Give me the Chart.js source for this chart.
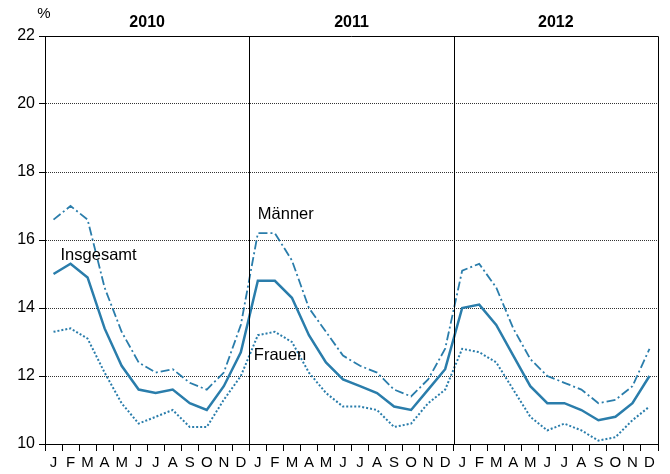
<!DOCTYPE html>
<html>
<head>
<meta charset="utf-8">
<script src="https://cdn.jsdelivr.net/npm/chart.js@4"></script>
<style>
  html, body { margin: 0; padding: 0; background: #fff; }
  #wrap { width: 670px; height: 474px; }
</style>
</head>
<body>
<div id="wrap"><canvas id="chart" width="670" height="474"></canvas></div>
<script>
// --- Data ---
const years = ["2010", "2011", "2012"];
const months = ["J", "F", "M", "A", "M", "J", "J", "A", "S", "O", "N", "D"];
const yTicks = [10, 12, 14, 16, 18, 20, 22];

const maenner = [
  16.6, 17.0, 16.6, 14.6, 13.3, 12.4, 12.1, 12.2, 11.8, 11.6, 12.1, 13.5,
  16.2, 16.2, 15.4, 14.0, 13.3, 12.6, 12.3, 12.1, 11.6, 11.4, 11.9, 12.8,
  15.1, 15.3, 14.6, 13.4, 12.5, 12.0, 11.8, 11.6, 11.2, 11.3, 11.7, 12.8,
];
const insgesamt = [
  15.0, 15.3, 14.9, 13.4, 12.3, 11.6, 11.5, 11.6, 11.2, 11.0, 11.7, 12.7,
  14.8, 14.8, 14.3, 13.2, 12.4, 11.9, 11.7, 11.5, 11.1, 11.0, 11.6, 12.2,
  14.0, 14.1, 13.5, 12.6, 11.7, 11.2, 11.2, 11.0, 10.7, 10.8, 11.2, 12.0,
];
const frauen = [
  13.3, 13.4, 13.1, 12.1, 11.2, 10.6, 10.8, 11.0, 10.5, 10.5, 11.3, 12.0,
  13.2, 13.3, 13.0, 12.1, 11.5, 11.1, 11.1, 11.0, 10.5, 10.6, 11.2, 11.6,
  12.8, 12.7, 12.4, 11.6, 10.8, 10.4, 10.6, 10.4, 10.1, 10.2, 10.7, 11.1,
];

const labels = [];
years.forEach(() => months.forEach((m) => labels.push(m)));

const lineColor = "#2a7dab";
const font = "'Liberation Sans', Arial, sans-serif";

// year headers, separators, frame and series names
const decorations = {
  id: "decorations",
  afterDatasetsDraw(chart) {
    const { ctx, chartArea, scales } = chart;
    const x = scales.x, y = scales.y;
    ctx.save();
    ctx.strokeStyle = "#000";
    ctx.lineWidth = 1;
    // frame top + right
    ctx.beginPath();
    ctx.moveTo(chartArea.left, chartArea.top + 0.5);
    ctx.lineTo(chartArea.right + 0.5, chartArea.top + 0.5);
    ctx.lineTo(chartArea.right + 0.5, chartArea.bottom);
    ctx.stroke();
    // year separators
    for (let i = 1; i < years.length; i++) {
      const px = Math.round((x.getPixelForValue(i * 12 - 1) + x.getPixelForValue(i * 12)) / 2) + 0.5;
      ctx.beginPath();
      ctx.moveTo(px, chartArea.top);
      ctx.lineTo(px, chartArea.bottom);
      ctx.stroke();
    }
    // year labels
    ctx.fillStyle = "#000";
    ctx.font = "bold 16px " + font;
    ctx.textAlign = "center";
    ctx.textBaseline = "middle";
    years.forEach((yr, i) => {
      const cx = (x.getPixelForValue(i * 12) + x.getPixelForValue(i * 12 + 11)) / 2;
      ctx.fillText(yr, cx, 23);
    });
    // unit
    ctx.font = "15px " + font;
    ctx.fillText("%", 44, 14);
    // series names
    ctx.font = "16.5px " + font;
    ctx.textAlign = "left";
    ctx.fillText("Männer", x.getPixelForValue(12), y.getPixelForValue(16.75));
    ctx.fillText("Insgesamt", x.getPixelForValue(0) + 7, y.getPixelForValue(15.55));
    ctx.fillText("Frauen", x.getPixelForValue(12) - 4, y.getPixelForValue(12.6));
    ctx.restore();
  },
};

const ctx = document.getElementById("chart").getContext("2d");
new Chart(ctx, {
  type: "line",
  data: {
    labels: labels,
    datasets: [
      {
        label: "Männer",
        data: maenner,
        borderColor: lineColor,
        borderWidth: 1.8,
        borderDash: [9, 3, 2, 3],
        pointRadius: 0,
        tension: 0,
      },
      {
        label: "Insgesamt",
        data: insgesamt,
        borderColor: lineColor,
        borderWidth: 2.5,
        pointRadius: 0,
        tension: 0,
      },
      {
        label: "Frauen",
        data: frauen,
        borderColor: lineColor,
        borderWidth: 2,
        borderDash: [2, 2],
        pointRadius: 0,
        tension: 0,
      },
    ],
  },
  plugins: [decorations],
  options: {
    responsive: false,
    animation: false,
    layout: { padding: { top: 36, right: 12, left: 0, bottom: 0 } },
    plugins: { legend: { display: false }, tooltip: { enabled: false } },
    scales: {
      x: {
        offset: true,
        grid: {
          offset: true,
          drawOnChartArea: false,
          tickLength: 7,
          tickColor: "#000",
        },
        border: { color: "#000", width: 1 },
        ticks: {
          autoSkip: false,
          maxRotation: 0,
          padding: 3,
          color: "#000",
          font: { family: font, size: 15 },
        },
        afterFit(scale) { scale.height = 30; },
      },
      y: {
        min: 10,
        max: 22,
        afterBuildTicks(scale) { scale.ticks = yTicks.map((v) => ({ value: v })); },
        grid: {
          color: "#333",
          lineWidth: 1,
          tickLength: 6,
          tickColor: "#000",
          tickBorderDash: [],
        },
        border: { color: "#000", width: 1, dash: [1, 1] },
        ticks: {
          padding: 4,
          color: "#000",
          font: { family: font, size: 16 },
        },
        afterFit(scale) { scale.width = 45; },
      },
    },
  },
});
</script>
</body>
</html>
